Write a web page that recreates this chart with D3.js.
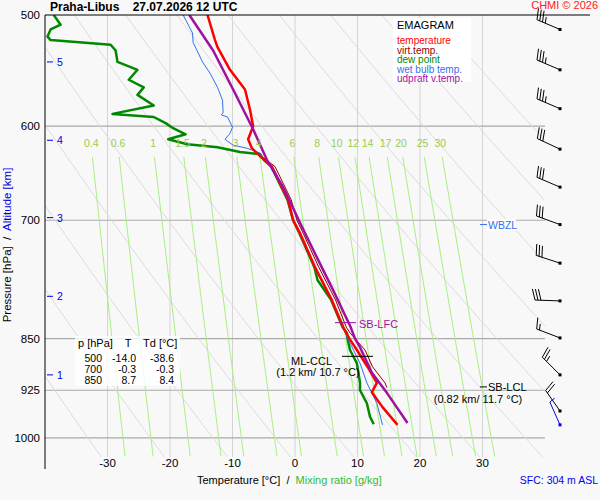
<!DOCTYPE html>
<html><head><meta charset="utf-8">
<script src="https://cdn.jsdelivr.net/npm/d3@7"></script>
<style>body{margin:0;background:#f8f8f8;font-family:"Liberation Sans",Arial,sans-serif}</style>
</head><body><svg id="c" width="600" height="500"></svg>
<script>
// profiles: [pressure hPa, temperature degC]
var tempProfile = [[500,-14.0],[521,-12.8],[527,-12.4],[547,-10.4],[565,-8.0],[584,-7.2],[600,-6.7],[613,-7.5],[622,-6.9],[632,-5.3],[641,-3.7],[677,-1.1],[700,-0.3],[715,0.8],[756,3.2],[798,5.9],[834,7.7],[850,8.7],[866,9.9],[890,11.6],[914,13.1],[928,12.3],[951,14.0],[979,16.4]];
var virtProfile = [[632,-5.0],[641,-3.2],[677,-0.6],[700,0.3],[715,1.3],[756,3.8],[798,6.5],[834,8.2],[842,8.8],[866,11.2],[890,12.4],[914,14.4],[921,14.7]];
var dewProfile = [[500,-38.6],[508,-37.5],[512,-39.1],[518,-39.6],[521,-39.1],[525,-29.5],[530,-28.7],[540,-28.4],[547,-25.2],[556,-26.6],[563,-24.2],[570,-25.2],[580,-22.6],[588,-29.2],[591,-22.6],[597,-20.7],[602,-19.5],[608,-17.5],[613,-20.3],[618,-17.2],[621,-12.4],[626,-8.8],[628,-5.6],[634,-5.0],[641,-3.8],[677,-1.2],[700,-0.3],[715,0.7],[756,3.1],[772,3.6],[798,5.8],[834,7.6],[842,8.3],[850,8.4],[866,8.8],[885,9.9],[914,10.4],[925,10.4],[945,11.5],[966,12.0],[978,12.6]];
var wetbulbProfile = [[500,-17.9],[515,-16.4],[523,-16.3],[540,-14.8],[550,-13.6],[563,-12.4],[575,-11.6],[587,-11.5],[589,-11.8],[591,-10.8],[601,-10.0],[607,-10.4],[613,-11.2],[619,-9.9],[622,-7.7],[627,-5.6],[634,-5.0],[641,-3.8],[677,-1.2],[700,-0.3],[715,0.7],[756,3.1],[798,5.8],[834,7.6],[856,8.8],[885,10.4],[914,11.5],[945,13.1],[979,14.0]];
var parcelProfile = [[500,-16.9],[530,-13.1],[565,-9.9],[603,-6.7],[634,-4.5],[663,-1.9],[703,0.8],[744,3.5],[785,6.1],[834,8.9],[850,9.6],[862,10.4],[899,12.3],[929,14.7],[976,18.0]];
var isobars = [600,700,850,925,1000];
var isotherms = [-30,-20,-10,0,10,20,30];
var thetaLines = [230,240,250,260,270,280,290,300,310,320,330,340,350,360];
var mixingRatios = [0.4,0.6,1,1.5,2,3,4,6,8,10,12,14,17,20,25,30];
var altKm = [[1,902],[2,793],[3,697],[4,614],[5,540]];
var windP = [512,547,583,623,663,705,751,799,849,902,957];
var windDir = [293,293,293,295,293,290,288,272,291,315,325];
var windKt = [35,35,35,30,30,30,30,30,15,25,20];
var tableRows = [["500","-14.0","-38.6"],["700","-0.3","-0.3"],["850","8.7","8.4"]];

var svg = d3.select('#c');
var x = d3.scaleLinear().domain([-40,40]).range([45,545]);
var y = d3.scaleLog().domain([500,1032]).range([15,457]);

svg.append('rect').attr('width',600).attr('height',500).attr('fill','#f8f8f8');
svg.append('clipPath').attr('id','clip').append('rect').attr('x',45).attr('y',15).attr('width',500).attr('height',442);
var plot = svg.append('g').attr('clip-path','url(#clip)');

//Isotherms
plot.selectAll('.it').data(isotherms).enter().append('line')
  .attr('x1',function(d){return x(d);}).attr('x2',function(d){return x(d);})
  .attr('y1',15).attr('y2',457).attr('stroke','#d4d4d4');

//Isobars
plot.selectAll('.ib').data(isobars).enter().append('line')
  .attr('x1',45).attr('x2',545).attr('y1',function(d){return y(d);}).attr('y2',function(d){return y(d);})
  .attr('stroke','#aaa').attr('stroke-width',1.2);

//Dry adiabats
var pGrid = d3.range(500,1040,5);
var line = d3.line().x(function(d){return x(d[1]);}).y(function(d){return y(d[0]);});
plot.selectAll('.th').data(thetaLines).enter().append('path')
  .attr('d',function(th){return line(pGrid.map(function(p){return [p, th*Math.pow(p/1000,0.286)-273.15];}));})
  .attr('fill','none').attr('stroke','#dcdcdc');

//Mixing ratio lines
function tdFromW(w,p){var e=w*p/(622+w);var l=Math.log(e/6.112);return 243.5*l/(17.67-l);}
var pMix = d3.range(631,1035,4);
plot.selectAll('.mr').data(mixingRatios).enter().append('path')
  .attr('d',function(w){return line(pMix.map(function(p){return [p,tdFromW(w,p)];}));})
  .attr('fill','none').attr('stroke','#a6f07e');
svg.selectAll('.mrl').data(mixingRatios).enter().append('text')
  .attr('x',function(w){return x(tdFromW(w,620));}).attr('y',147)
  .attr('text-anchor','middle').attr('font-size',10.5).attr('fill','#9ccc4c').text(function(d){return d;});

//Profiles
function prof(data,color,w){plot.append('path').datum(data).attr('d',line).attr('fill','none').attr('stroke',color).attr('stroke-width',w).attr('stroke-linejoin','round');}
prof(dewProfile,'#008800',2.5);
prof(wetbulbProfile,'#3370ee',1);
prof(virtProfile,'#990000',1);
prof(tempProfile,'#ff0000',2.5);
prof(parcelProfile,'#a010a0',2.5);

//Frame
svg.append('line').attr('x1',45).attr('x2',45).attr('y1',15).attr('y2',469).attr('stroke','#000');
svg.append('line').attr('x1',45).attr('x2',590).attr('y1',15).attr('y2',15).attr('stroke','#000');

//Pressure labels
svg.selectAll('.pl').data([500].concat(isobars)).enter().append('text')
  .attr('x',40).attr('y',function(d){return y(d)+4;}).attr('text-anchor','end').attr('font-size',11.5).text(function(d){return d;});

//Temperature labels
svg.selectAll('.tl').data(isotherms).enter().append('text')
  .attr('x',function(d){return x(d);}).attr('y',467).attr('text-anchor','middle').attr('font-size',11.5).text(function(d){return d;});

//Altitude ticks
var alt = svg.selectAll('.al').data(altKm).enter().append('g');
alt.append('line').attr('x1',47).attr('x2',53).attr('y1',function(d){return y(d[1]);}).attr('y2',function(d){return y(d[1]);}).attr('stroke','#0000dd');
alt.append('text').attr('x',57).attr('y',function(d){return y(d[1])+4;}).attr('font-size',10.5).attr('fill','#0000dd').text(function(d){return d[0];});

//Titles
svg.append('text').attr('x',50).attr('y',11).attr('font-size',12).attr('font-weight','bold').attr('xml:space','preserve').text('Praha-Libus    27.07.2026 12 UTC');
svg.append('text').attr('x',598).attr('y',9).attr('text-anchor','end').attr('font-size',11).attr('fill','#ff2020').text('CHMI © 2026');
var xl = svg.append('text').attr('x',197).attr('y',484).attr('font-size',11).attr('xml:space','preserve');
xl.append('tspan').text('Temperature [°C]  /  ');
xl.append('tspan').attr('fill','#33bb33').text('Mixing ratio [g/kg]');
svg.append('text').attr('x',598).attr('y',484).attr('text-anchor','end').attr('font-size',10.5).attr('fill','#0000ee').text('SFC: 304 m ASL');
var yl = svg.append('text').attr('transform','translate(11,245) rotate(-90)').attr('text-anchor','middle').attr('font-size',11.5).attr('xml:space','preserve');
yl.append('tspan').text('Pressure [hPa]  /  ');
yl.append('tspan').attr('fill','#0000dd').text('Altitude [km]');

//Legend
svg.append('rect').attr('x',393).attr('y',18).attr('width',78).attr('height',64).attr('fill','#fff');
svg.append('text').attr('x',397).attr('y',29).attr('font-size',11).text('EMAGRAM');
var legend = [['temperature','#ff0000'],['virt.temp.','#990000'],['dew point','#008800'],['wet bulb temp.','#3370ee'],['udpraft v.temp.','#a010a0']];
svg.selectAll('.lg').data(legend).enter().append('text')
  .attr('x',397).attr('y',function(d,i){return 44+i*9.6;}).attr('font-size',10).attr('fill',function(d){return d[1];}).text(function(d){return d[0];});

//Table
svg.append('rect').attr('x',75).attr('y',336).attr('width',105).attr('height',50).attr('fill','#fff').attr('opacity',0.8);
var tb = svg.append('g').attr('font-size',10.5);
tb.append('text').attr('x',78).attr('y',347).attr('font-size',11).text('p [hPa]');
tb.append('text').attr('x',128).attr('y',347).attr('text-anchor','middle').attr('font-size',11).text('T');
tb.append('text').attr('x',143).attr('y',347).attr('font-size',11).text('Td [°C]');
tableRows.forEach(function(r,i){
  var yy=362+i*11;
  tb.append('text').attr('x',102).attr('y',yy).attr('text-anchor','end').text(r[0]);
  tb.append('text').attr('x',136).attr('y',yy).attr('text-anchor','end').text(r[1]);
  tb.append('text').attr('x',174).attr('y',yy).attr('text-anchor','end').text(r[2]);
});

//Levels
function level(p,x1,x2,color){svg.append('line').attr('x1',x1).attr('x2',x2).attr('y1',y(p)).attr('y2',y(p)).attr('stroke',color);}
level(828,335,356,'#a010a0');
svg.append('text').attr('x',359).attr('y',328).attr('font-size',11).attr('fill','#a010a0').text('SB-LFC');
level(875,342,373,'#000');
svg.append('text').attr('x',332).attr('y',365).attr('text-anchor','end').attr('font-size',11).text('ML-CCL');
svg.append('text').attr('x',318).attr('y',376).attr('text-anchor','middle').attr('font-size',11).text('(1.2 km/ 10.7 °C)');
level(920,480,487,'#000');
svg.append('text').attr('x',488).attr('y',391).attr('font-size',11).text('SB-LCL');
svg.append('text').attr('x',478).attr('y',403).attr('text-anchor','middle').attr('font-size',11).text('(0.82 km/ 11.7 °C)');
level(705,480,487,'#3370ee');
svg.append('rect').attr('x',487).attr('y',219).attr('width',29).attr('height',12).attr('fill','#fff');
svg.append('text').attr('x',488).attr('y',229).attr('font-size',10.5).attr('fill','#3370ee').text('WBZL');

//Wind barbs
function barb(p,dir,kt,color){
  var sx=560, sy=y(p), L=25, r=dir*Math.PI/180;
  var ux=Math.sin(r), uy=-Math.cos(r);
  var ex=sx+ux*L, ey=sy+uy*L;
  var g=svg.append('g').attr('stroke',color).attr('fill',color);
  g.append('line').attr('x1',sx).attr('y1',sy).attr('x2',ex).attr('y2',ey);
  g.append('rect').attr('x',sx-1.5).attr('y',sy-1.5).attr('width',3).attr('height',3).attr('stroke','none');
  var fx=-uy, fy=ux; if(fy>0){fx=-fx;fy=-fy;}
  var n=Math.floor(kt/10), half=(kt%10)>=5, i;
  for(i=0;i<n;i++){
    var bx=ex-ux*i*3, by=ey-uy*i*3;
    g.append('line').attr('x1',bx).attr('y1',by).attr('x2',bx+fx*11+ux*3).attr('y2',by+fy*11+uy*3);
  }
  if(half){var hx=ex-ux*n*3, hy=ey-uy*n*3;
    g.append('line').attr('x1',hx).attr('y1',hy).attr('x2',hx+fx*6+ux*1.5).attr('y2',hy+fy*6+uy*1.5);}
}
windP.forEach(function(p,i){barb(p,windDir[i],windKt[i],'#000');});
barb(979,336,5,'#0000ee');
</script></body></html>
